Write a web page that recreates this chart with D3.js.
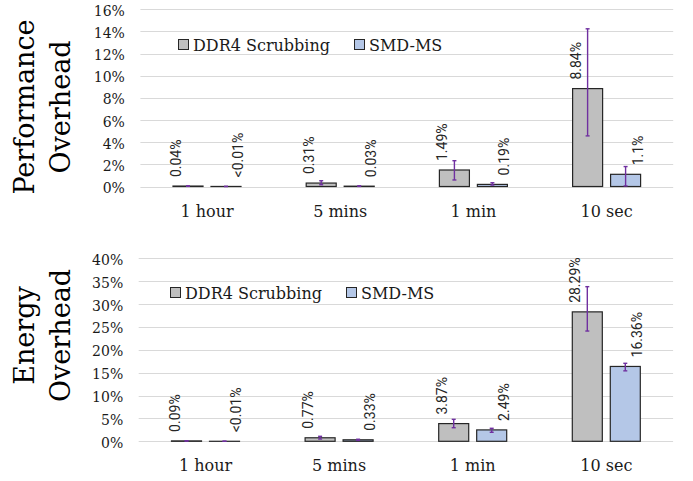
<!DOCTYPE html>
<html>
<head>
<meta charset="utf-8">
<script src="https://cdn.jsdelivr.net/npm/d3@7/dist/d3.min.js"></script>
<style>
  html, body { margin: 0; padding: 0; background: #fff; }
  svg { display: block; }
</style>
</head>
<body>
<svg id="chart" width="693" height="481"></svg>
<script>
// Scrubbing interval categories and the two compared schemes
const categories = ["1 hour", "5 mins", "1 min", "10 sec"];
const series = ["DDR4 Scrubbing", "SMD-MS"];

// Performance overhead (%)
const perfDDR4 = [0.04, 0.31, 1.49, 8.84];
const perfSMD = [0.005, 0.03, 0.19, 1.1];
const perfDDR4Lo = [0.02, 0.16, 0.59, 4.57];
const perfDDR4Hi = [0.06, 0.52, 2.33, 14.24];
const perfSMDLo = [0.0, 0.01, 0.13, 0.05];
const perfSMDHi = [0.01, 0.06, 0.34, 1.8];
const perfDDR4Text = ["0.04%", "0.31%", "1.49%", "8.84%"];
const perfSMDText = ["<0.01%", "0.03%", "0.19%", "1.1%"];
const perfTicks = [0, 2, 4, 6, 8, 10, 12, 14, 16];

// Energy overhead (%)
const energyDDR4 = [0.09, 0.77, 3.87, 28.29];
const energySMD = [0.005, 0.33, 2.49, 16.36];
const energyDDR4Lo = [0.05, 0.5, 2.97, 24.1];
const energyDDR4Hi = [0.13, 1.09, 4.8, 33.8];
const energySMDLo = [0.0, 0.2, 1.97, 15.4];
const energySMDHi = [0.01, 0.45, 2.84, 17.05];
const energyDDR4Text = ["0.09%", "0.77%", "3.87%", "28.29%"];
const energySMDText = ["<0.01%", "0.33%", "2.49%", "16.36%"];
const energyTicks = [0, 5, 10, 15, 20, 25, 30, 35, 40];

const fills = { "DDR4 Scrubbing": "#bfbfbf", "SMD-MS": "#b4c7e7" };
const labelShift = { "DDR4 Scrubbing": -12, "SMD-MS": 12 };
const SERIF = "'DejaVu Serif', serif";
const SANS = "Roboto, 'Liberation Sans', sans-serif";

const svg = d3.select("#chart");

function buildRows(a, b, aLo, aHi, bLo, bHi, aText, bText) {
  return categories.map((c, i) => ({
    cat: c,
    items: [
      { s: series[0], v: a[i], lo: aLo[i], hi: aHi[i], t: aText[i] },
      { s: series[1], v: b[i], lo: bLo[i], hi: bHi[i], t: bText[i] }
    ]
  }));
}

function panel(cfg) {
  const g = svg.append("g");
  const x = d3.scaleBand().domain(categories).range([cfg.left, cfg.right]).padding(0);
  const x1 = d3.scaleBand().domain(series).range([-34, 34]).paddingInner(0.21);
  const y = d3.scaleLinear().domain([0, cfg.max]).range([cfg.bottom, cfg.top]);

  // gridlines
  g.append("g").selectAll("line").data(cfg.ticks).join("line")
    .attr("x1", cfg.left).attr("x2", cfg.right)
    .attr("y1", d => Math.round(y(d)) + 0.5).attr("y2", d => Math.round(y(d)) + 0.5)
    .attr("stroke", "#d9d9d9").attr("stroke-width", 1);

  // y tick labels
  g.append("g").selectAll("text").data(cfg.ticks).join("text")
    .attr("x", cfg.left - 15.5).attr("y", d => y(d) + 6.5)
    .attr("text-anchor", "end")
    .attr("font-family", SERIF).attr("font-size", 14).attr("fill", "#1a1a1a")
    .text(d => d + "%");

  // axis title (two lines)
  cfg.title.forEach((line, i) => {
    g.append("text")
      .attr("transform", `translate(${33.5 + i * 36.5},${cfg.titleY}) rotate(-90)`)
      .attr("text-anchor", "middle")
      .attr("font-family", SERIF).attr("font-size", 27).attr("fill", "#000")
      .text(line);
  });

  const groups = g.append("g").selectAll("g").data(cfg.rows).join("g")
    .attr("transform", d => `translate(${x(d.cat) + x.bandwidth() / 2},0)`);

  // bars
  groups.selectAll("rect").data(d => d.items).join("rect")
    .attr("x", d => x1(d.s)).attr("width", x1.bandwidth())
    .attr("y", d => y(d.v)).attr("height", d => y(0) - y(d.v))
    .attr("fill", d => fills[d.s]).attr("stroke", "#262626").attr("stroke-width", 1.2);

  // error bars
  const eb = groups.selectAll("g.err").data(d => d.items).join("g").attr("class", "err")
    .attr("stroke", "#7030a0").attr("stroke-width", 1.4);
  eb.append("line")
    .attr("x1", d => x1(d.s) + x1.bandwidth() / 2).attr("x2", d => x1(d.s) + x1.bandwidth() / 2)
    .attr("y1", d => y(d.lo)).attr("y2", d => y(d.hi));
  eb.append("line")
    .attr("x1", d => x1(d.s) + x1.bandwidth() / 2 - 2).attr("x2", d => x1(d.s) + x1.bandwidth() / 2 + 2)
    .attr("y1", d => y(d.hi)).attr("y2", d => y(d.hi));
  eb.append("line")
    .attr("x1", d => x1(d.s) + x1.bandwidth() / 2 - 2).attr("x2", d => x1(d.s) + x1.bandwidth() / 2 + 2)
    .attr("y1", d => y(d.lo)).attr("y2", d => y(d.lo));

  // value labels
  groups.selectAll("text.val").data(d => d.items).join("text").attr("class", "val")
    .attr("transform", d => `translate(${x1(d.s) + x1.bandwidth() / 2 + labelShift[d.s] + 5},${y(d.v) - 9}) rotate(-90)`)
    .attr("text-anchor", "start")
    .attr("font-family", SANS).attr("font-size", 14).attr("fill", "#262626")
    .text(d => d.t);

  // category labels
  g.append("g").selectAll("text").data(categories).join("text")
    .attr("x", d => x(d) + x.bandwidth() / 2).attr("y", cfg.catY)
    .attr("text-anchor", "middle")
    .attr("font-family", SERIF).attr("font-size", 16).attr("fill", "#1a1a1a")
    .text(d => d);

  // legend
  series.forEach((s, i) => {
    const lx = cfg.legend[i];
    g.append("rect")
      .attr("x", lx + 0.5).attr("y", cfg.legendY - 5.5).attr("width", 10).attr("height", 10)
      .attr("fill", fills[s]).attr("stroke", "#262626").attr("stroke-width", 1);
    g.append("text")
      .attr("x", lx + 15).attr("y", cfg.legendY + 6)
      .attr("font-family", SERIF).attr("font-size", 16).attr("fill", "#1a1a1a")
      .text(s);
  });
}

panel({
  left: 140.4, right: 673.2, top: 9.3, bottom: 186.5, max: 16, ticks: perfTicks,
  title: ["Performance", "Overhead"], titleY: 107, catY: 216.5,
  legend: [178, 354], legendY: 45,
  rows: buildRows(perfDDR4, perfSMD, perfDDR4Lo, perfDDR4Hi, perfSMDLo, perfSMDHi, perfDDR4Text, perfSMDText)
});

panel({
  left: 138.7, right: 673.1, top: 258.3, bottom: 441.3, max: 40, ticks: energyTicks,
  title: ["Energy", "Overhead"], titleY: 335.5, catY: 471,
  legend: [170, 346], legendY: 293,
  rows: buildRows(energyDDR4, energySMD, energyDDR4Lo, energyDDR4Hi, energySMDLo, energySMDHi, energyDDR4Text, energySMDText)
});
</script>
</body>
</html>
